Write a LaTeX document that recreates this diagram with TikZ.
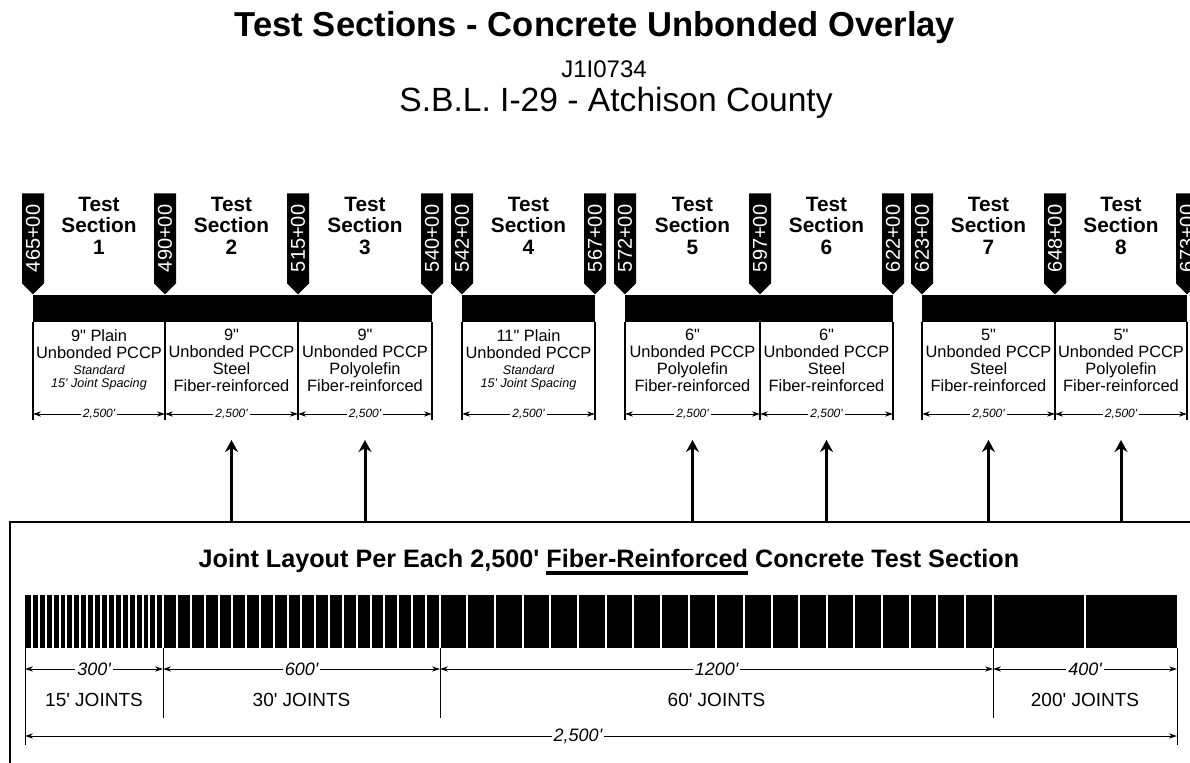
\documentclass[tikz,border=0pt]{standalone}
\usepackage{fontspec}
\setmainfont{Liberation Sans}
\usetikzlibrary{arrows.meta,shapes.symbols,positioning}

\newcommand\ft{\textquotesingle}
\newcommand\inch{\textquotedbl}
\newcommand\fsz[2]{\fontsize{#1}{#2}\selectfont}
\newcommand\noteit{\fsz{6.3}{6.3}\itshape}
\newcommand\thickul[1]{\vtop{\hbox{#1}\kern2pt\hrule height 2pt}}

\begin{document}
\begin{tikzpicture}[x=0.5pt,y=-0.5pt,
  stn/.style={signal,signal to=west,signal pointer angle=90,fill=black,
    text=white,rotate=90,anchor=west,minimum width=50.5pt,
    minimum height=11pt,inner sep=0pt,font=\fsz{10}{10}},
  hdr/.style={align=center,inner sep=0pt,anchor=north,
    font=\fsz{10.4}{10.6}\bfseries},
  desc/.style={align=center,inner sep=0pt,anchor=north,font=\fsz{8.2}{8.5}},
  slab/.style={fill=black},
  joint/.style={white,line width=1pt},
  edge/.style={line width=0.6pt},
  ext/.style={line width=0.5pt},
  dim/.style={line width=0.4pt,
    {Stealth[length=4pt,width=2.6pt]}-{Stealth[length=4pt,width=2.6pt]}},
  dimlab/.style={fill=white,inner sep=1pt,font=\fsz{6}{6}\itshape},
  jdimlab/.style={fill=white,inner sep=1pt,font=\fsz{9}{9}\itshape},
  jtlab/.style={inner sep=0pt,font=\fsz{9.5}{9.5}},
  feed/.style={line width=1.5pt,-{Stealth[length=6pt,width=6.5pt,inset=2pt]}},
  frame/.style={line width=0.8pt}]

\useasboundingbox (0,0) rectangle (1190,762);
\clip (0,0) rectangle (1190,762);

% titles
\node[font=\fsz{17.3}{18}\bfseries] (title) at (595,28)
  {Test Sections - Concrete Unbonded Overlay};
\node[font=\fsz{12}{12}] (job) at (604,69) {J1I0734};
\node[font=\fsz{16.8}{17}] (road) at (616,103) {S.B.L. I-29 - Atchison County};

% helper rows
\coordinate (barbot) at (0,322);
\coordinate (boxbot) at (0,420);
\coordinate (dimy) at (0,414);
\coordinate (ftop) at (0,522);
\coordinate (atip) at (0,440);

% stations
\foreach \x/\n in {33/465,165/490,298/515,432/540,462/542,595/567,
    625/572,760/597,893/622,922/623,1055/648,1187/673}
  \node[stn] (s\n) at (\x,295) {\n+00};

% pavement bars
\fill[slab] (s465.west) rectangle (s540.west |- barbot);
\fill[slab] (s542.west) rectangle (s567.west |- barbot);
\fill[slab] (s572.west) rectangle (s622.west |- barbot);
\fill[slab] (s623.west) rectangle (s673.west |- barbot);

\foreach \n in {465,490,515,540,542,567,572,597,622,623,648,673}
  \draw[edge] (s\n.west |- barbot) -- (s\n.west |- boxbot);

\foreach \a/\b in {465/490,490/515,515/540,542/567,572/597,597/622,
    623/648,648/673}
  \draw[dim] (s\a.west |- dimy) -- (s\b.west |- dimy)
    node[dimlab,midway] (l\a) {2,500\ft};

% section headers
\foreach \i/\x in {1/99,2/231.5,3/365,4/528.5,5/692.5,6/826.5,7/988.5,8/1121}
  \node[hdr] (h\i) at (\x,197) {Test\\Section\\\i};

% section descriptions
\node[desc] (b1) at (99,329) {9\inch{} Plain\\Unbonded PCCP\\[-0.6pt]
  {\noteit Standard}\\[-1.6pt]{\noteit 15\ft{} Joint Spacing}};
\node[desc] (b2) at (231.5,329) {9\inch\\Unbonded PCCP\\Steel\\Fiber-reinforced};
\node[desc] (b3) at (365,329) {9\inch\\Unbonded PCCP\\Polyolefin\\Fiber-reinforced};
\node[desc] (b4) at (528.5,329) {11\inch{} Plain\\Unbonded PCCP\\[-0.6pt]
  {\noteit Standard}\\[-1.6pt]{\noteit 15\ft{} Joint Spacing}};
\node[desc] (b5) at (692.5,329) {6\inch\\Unbonded PCCP\\Polyolefin\\Fiber-reinforced};
\node[desc] (b6) at (826.5,329) {6\inch\\Unbonded PCCP\\Steel\\Fiber-reinforced};
\node[desc] (b7) at (988.5,329) {5\inch\\Unbonded PCCP\\Steel\\Fiber-reinforced};
\node[desc] (b8) at (1121,329) {5\inch\\Unbonded PCCP\\Polyolefin\\Fiber-reinforced};

% joint layout panel
\draw[frame] (10,780) -- (10,522) -- (1200,522);
\foreach \b in {b2,b3,b5,b6,b7,b8}
  \draw[feed] (\b |- ftop) -- (\b |- atip);

\node[anchor=base,inner sep=0pt,font=\fsz{12.6}{13}\bfseries] (jl) at (609,567)
  {Joint Layout Per Each 2,500\ft{} \thickul{Fiber-Reinforced} Concrete Test Section};

\fill[slab] (25,595) rectangle (1177,648);
\foreach \f in {15,30,...,300,330,360,...,900,960,1020,...,2100,2300}
  \draw[joint] ({25+\f*0.4608},594) -- ({25+\f*0.4608},649);

\coordinate (j0) at (25,648);
\coordinate (j300) at (163,648);
\coordinate (j900) at (440,648);
\coordinate (j2100) at (993,648);
\coordinate (j2500) at (1177,648);
\coordinate (d1) at (0,669);
\coordinate (d2) at (0,736);
\coordinate (e1) at (0,718);
\coordinate (e2) at (0,745);

\draw[ext] (j0) -- (j0 |- e2);
\draw[ext] (j2500) -- (j2500 |- e2);
\foreach \j in {j300,j900,j2100}
  \draw[ext] (\j) -- (\j |- e1);

\draw[dim] (j0 |- d1) -- (j300 |- d1) node[jdimlab,midway] (m300) {300\ft}
  node[jtlab,midway,yshift=-15.5pt] (t15) {15\ft{} JOINTS};
\draw[dim] (j300 |- d1) -- (j900 |- d1) node[jdimlab,midway] (m600) {600\ft}
  node[jtlab,midway,yshift=-15.5pt] (t30) {30\ft{} JOINTS};
\draw[dim] (j900 |- d1) -- (j2100 |- d1) node[jdimlab,midway] (m1200) {1200\ft}
  node[jtlab,midway,yshift=-15.5pt] (t60) {60\ft{} JOINTS};
\draw[dim] (j2100 |- d1) -- (j2500 |- d1) node[jdimlab,midway] (m400) {400\ft}
  node[jtlab,midway,yshift=-15.5pt] (t200) {200\ft{} JOINTS};
\draw[dim] (j0 |- d2) -- (j2500 |- d2) node[jdimlab,pos=0.48] (m2500) {2,500\ft};

\end{tikzpicture}
\end{document}
